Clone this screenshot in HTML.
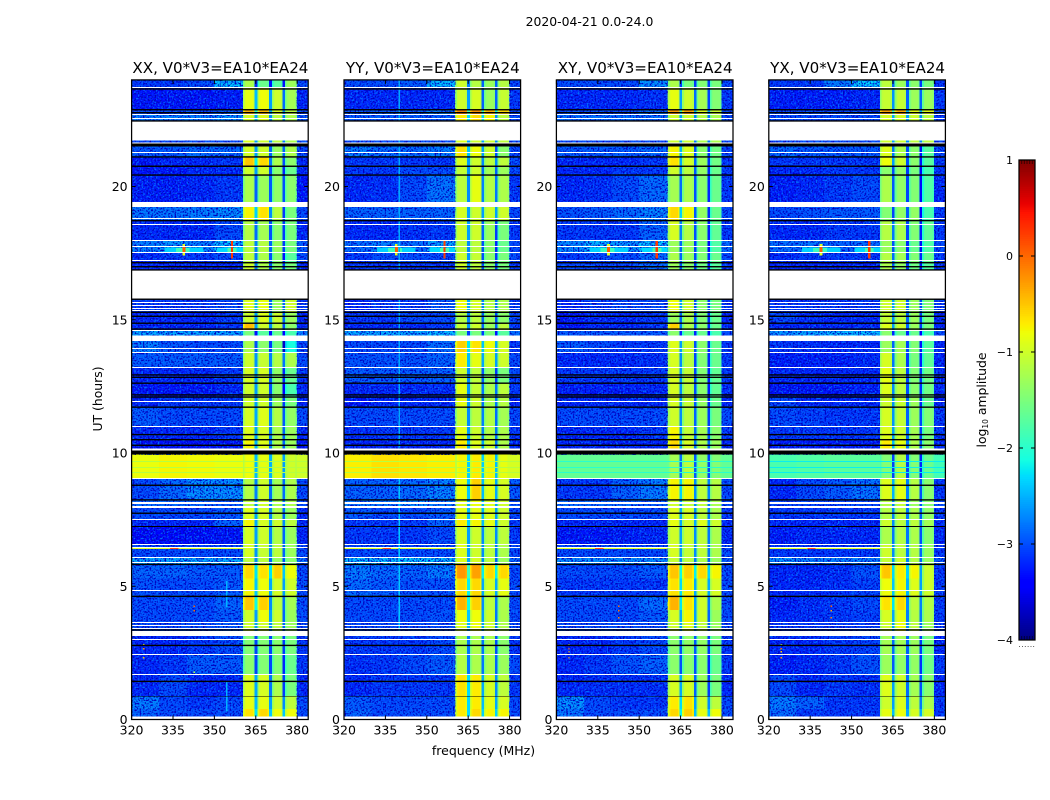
<!DOCTYPE html>
<html lang="en">
<head>
<meta charset="utf-8">
<title>2020-04-21 amplitude spectrograms</title>
<style>
html,body{margin:0;padding:0;background:#fff;}
body{width:1050px;height:800px;overflow:hidden;}
svg{display:block;}
text{font-family:"DejaVu Sans","Liberation Sans",sans-serif;fill:#000;}
</style>
</head>
<body>
<svg id="figure" width="1050" height="800" viewBox="0 0 1050 800" xmlns="http://www.w3.org/2000/svg">
  <defs>
    <filter id="speckle-light" x="0" y="0" width="100%" height="100%" color-interpolation-filters="sRGB">
      <feTurbulence type="fractalNoise" baseFrequency="0.55" numOctaves="1" seed="4"/>
      <feColorMatrix type="matrix" values="0 0 0 0 0  0 0 0 0 0.42  0 0 0 0 1  5 0 0 0 -2.45"/>
    </filter>
    <filter id="speckle-dark" x="0" y="0" width="100%" height="100%" color-interpolation-filters="sRGB">
      <feTurbulence type="fractalNoise" baseFrequency="0.6" numOctaves="1" seed="11"/>
      <feColorMatrix type="matrix" values="0 0 0 0 0  0 0 0 0 0  0 0 0 0 0.75  5 0 0 0 -2.4"/>
    </filter>
  </defs>
  <text x="589.5" y="26" font-size="12.4" text-anchor="middle">2020-04-21 0.0-24.0</text>
  <text x="483.5" y="755" font-size="12.5" text-anchor="middle">frequency (MHz)</text>
  <text x="0" y="0" font-size="12.4" text-anchor="middle" transform="translate(102 399) rotate(-90)">UT (hours)</text>
  <text x="0" y="0" font-size="12.4" text-anchor="middle" transform="translate(986 400) rotate(-90)">log<tspan font-size="7.5" dy="2">10</tspan><tspan dy="-2"> amplitude</tspan></text>
  <g id="panels"></g>
  <g id="colorbar"></g>
</svg>
<script>
// ---- chart data (log10 amplitude; hours UT; frequency MHz) ----
const panelTitles = ["XX, V0*V3=EA10*EA24", "YY, V0*V3=EA10*EA24", "XY, V0*V3=EA10*EA24", "YX, V0*V3=EA10*EA24"];
const xTickValues = [320, 335, 350, 365, 380];
const yTickValues = [0, 5, 10, 15, 20];
const colorbarTickValues = [1, 0, -1, -2, -3, -4];
const colorbarTickLabels = ["1", "0", "\u22121", "\u22122", "\u22123", "\u22124"];

const lowBandEdges = [320, 330, 340, 350, 360.3];
const spwLowEdges = [360.3, 365.6, 370.8, 375.6];
const spwHighEdges = [364.6, 369.8, 374.7, 379.9];
const spwShapeOffsets = [-0.35, -0.05, 0, 0, 0, 0, -0.12];
const gapDrop = [-1.6];

const blockHighHour = [24,23.72,22.88,22.7,21.72,21.5,21.1,20.76,20.43,19.24,18.72,18,17.5,17.14,15.78,15.28,14.87,14.6,14.2,13.79,13.22,12.62,12.1,11.72,11.02,10.5,9.94,9.05,8.24,7.94,7.51,7.25,6.57,6.09,5.82,5.3,4.62,4.1,3.65,3.13,2.45,1.7,0.86,0.4];
const blockLowHour = [23.72,22.88,22.7,22.43,21.5,21.1,20.76,20.43,19.42,18.72,18,17.5,17.14,16.84,15.28,14.87,14.6,14.4,13.79,13.22,12.62,12.1,11.72,11.02,10.5,10.16,9.05,8.24,7.94,7.51,7.25,6.57,6.09,5.82,5.3,4.62,4.1,3.65,3.33,2.45,1.7,0.89,0.4,0.03];

// each row: 320-330, 330-340, 340-350, 350-360, spw1, spw2, spw3, spw4, 380-384
const amplitudeXX = [
[-3.1,-3.1,-3.0,-2.4,-1.2,-1.6,-1.7,-1.3,-3.0],
[-3.3,-3.3,-3.3,-3.25,-0.85,-0.8,-1.0,-1.25,-3.2],
[-3.0,-3.0,-3.0,-2.9,-0.4,-0.45,-0.9,-1.1,-3.0],
[-2.7,-2.7,-2.7,-2.6,-0.95,-0.9,-1.1,-1.2,-2.9],
[-3.0,-3.0,-3.0,-3.0,-0.9,-1.0,-1.1,-1.2,-3.0],
[-2.9,-2.9,-2.8,-2.8,-0.95,-1.0,-1.3,-1.2,-3.0],
[-3.3,-3.2,-3.2,-3.1,-0.5,-0.6,-1.2,-1.4,-3.2],
[-3.3,-3.3,-3.2,-3.2,-1.0,-1.0,-1.4,-1.6,-3.2],
[-3.25,-3.25,-3.2,-3.1,-1.2,-1.3,-1.35,-1.4,-3.3],
[-2.75,-2.75,-2.7,-2.6,-0.75,-0.65,-1.1,-1.5,-3.0],
[-3.2,-3.2,-3.2,-3.0,-1.15,-1.25,-1.4,-1.5,-3.2],
[-2.7,-2.6,-2.7,-2.4,-1.1,-1.15,-1.3,-1.5,-2.9],
[-3.2,-3.1,-3.1,-3.0,-1.1,-1.2,-1.4,-1.7,-3.0],
[-3.2,-3.2,-3.2,-3.2,-1.0,-1.2,-1.4,-1.5,-3.2],
[-3.1,-3.1,-3.1,-3.0,-0.9,-0.85,-1.3,-1.0,-3.1],
[-3.2,-3.2,-3.2,-3.1,-1.0,-0.9,-1.0,-1.3,-3.2],
[-3.2,-3.2,-3.2,-3.1,-0.45,-1.0,-1.1,-1.4,-3.2],
[-2.5,-2.5,-2.5,-2.5,-1.5,-1.7,-1.6,-1.8,-2.7],
[-2.7,-2.9,-3.0,-3.0,-1.2,-1.4,-1.5,-2.1,-3.0],
[-2.9,-2.9,-2.9,-2.9,-1.0,-1.05,-1.15,-1.2,-3.0],
[-3.2,-3.2,-3.2,-3.1,-0.95,-0.95,-1.35,-1.6,-3.1],
[-3.3,-3.3,-3.3,-3.2,-1.0,-1.0,-1.4,-1.8,-3.2],
[-3.2,-3.1,-3.1,-3.1,-1.0,-1.0,-1.3,-1.5,-3.2],
[-2.9,-3.0,-3.0,-3.0,-0.95,-0.9,-1.15,-1.35,-3.0],
[-3.2,-3.2,-3.2,-3.1,-0.9,-0.95,-1.2,-1.3,-3.2],
[-3.3,-3.3,-3.3,-3.3,-0.75,-0.9,-1.2,-1.3,-3.3],
[-0.82,-0.76,-0.78,-0.82,-0.8,-0.85,-0.9,-1.0,-1.0],
[-3.0,-2.8,-2.6,-2.6,-1.15,-1.0,-1.25,-1.2,-3.0],
[-2.8,-2.8,-2.8,-2.9,-1.1,-1.0,-1.2,-1.2,-3.0],
[-3.0,-3.0,-3.0,-2.9,-0.9,-0.95,-1.15,-1.3,-3.2],
[-3.2,-3.2,-3.2,-2.85,-0.75,-0.95,-1.0,-1.1,-3.2],
[-3.4,-3.4,-3.35,-3.3,-0.95,-1.0,-1.15,-1.3,-3.2],
[-3.0,-3.0,-3.0,-3.0,-0.95,-1.05,-1.1,-1.3,-3.0],
[-2.5,-2.5,-2.5,-2.5,-1.1,-1.1,-1.3,-1.4,-2.8],
[-2.85,-2.85,-2.9,-2.9,-0.6,-0.65,-0.55,-0.8,-3.0],
[-2.95,-3.0,-3.0,-2.9,-0.75,-0.8,-0.95,-1.0,-3.0],
[-3.0,-3.0,-3.0,-2.85,-0.5,-0.55,-1.1,-1.25,-3.0],
[-3.0,-3.0,-3.0,-2.9,-1.0,-0.8,-1.0,-1.3,-3.0],
[-3.0,-3.0,-3.0,-2.9,-1.0,-1.0,-1.1,-1.3,-3.0],
[-3.2,-3.2,-3.1,-3.0,-1.45,-1.45,-1.4,-1.5,-3.1],
[-3.2,-3.1,-2.9,-2.9,-1.4,-1.45,-1.45,-1.6,-3.1],
[-3.2,-3.0,-3.2,-3.2,-0.9,-0.95,-1.2,-1.5,-3.2],
[-2.7,-3.0,-3.1,-3.0,-0.85,-0.85,-1.0,-1.1,-3.0],
[-2.85,-3.0,-3.0,-3.0,-0.65,-0.6,-0.8,-0.8,-3.0]
];
const amplitudeYY = [
[-3.0,-3.0,-2.9,-2.4,-1.0,-1.15,-1.3,-1.15,-3.0],
[-3.2,-3.2,-3.2,-3.2,-1.0,-0.95,-1.3,-1.05,-3.1],
[-2.9,-2.9,-2.9,-2.7,-0.15,-0.2,-0.4,-0.6,-3.0],
[-2.9,-2.9,-2.9,-2.9,-0.7,-0.6,-0.75,-1.1,-3.0],
[-3.0,-3.0,-3.0,-3.0,-0.9,-1.0,-1.0,-1.1,-3.0],
[-2.7,-2.8,-2.8,-2.7,-0.65,-0.8,-1.0,-1.4,-3.0],
[-3.1,-3.1,-3.1,-3.1,-0.9,-1.0,-1.1,-1.1,-3.0],
[-3.1,-3.1,-3.0,-3.0,-1.05,-1.0,-1.25,-1.3,-3.0],
[-3.2,-3.15,-3.0,-2.75,-1.1,-0.85,-1.15,-1.2,-3.1],
[-2.85,-2.85,-2.85,-2.85,-0.95,-1.0,-1.0,-1.0,-3.0],
[-3.2,-3.2,-3.15,-3.1,-1.0,-1.0,-1.3,-1.5,-3.1],
[-2.8,-2.7,-2.8,-2.5,-1.1,-1.1,-1.4,-1.6,-3.0],
[-3.1,-3.0,-3.0,-3.0,-1.0,-1.05,-1.4,-1.5,-3.0],
[-3.1,-3.1,-3.1,-3.1,-1.0,-1.1,-1.4,-1.5,-3.1],
[-3.2,-3.1,-3.1,-2.9,-0.8,-0.95,-1.15,-1.2,-3.1],
[-3.1,-3.1,-3.0,-3.0,-1.15,-1.1,-1.3,-1.4,-3.0],
[-3.2,-3.2,-3.2,-3.1,-1.05,-1.0,-1.3,-1.1,-3.1],
[-2.5,-2.5,-2.5,-2.4,-1.5,-1.5,-1.5,-1.7,-2.8],
[-3.0,-3.0,-3.0,-2.8,-0.55,-0.65,-0.8,-0.95,-3.1],
[-2.95,-2.95,-2.95,-2.85,-0.7,-0.85,-0.95,-1.0,-3.0],
[-2.9,-2.9,-2.9,-2.85,-1.0,-1.1,-1.35,-1.5,-3.0],
[-3.2,-3.2,-3.2,-3.15,-0.85,-1.05,-1.2,-1.1,-3.1],
[-3.3,-3.2,-3.2,-3.2,-0.85,-1.0,-1.2,-1.15,-3.2],
[-3.0,-3.0,-3.0,-3.0,-1.05,-1.1,-1.15,-1.25,-3.0],
[-3.15,-3.1,-3.1,-3.1,-0.85,-1.0,-1.15,-1.2,-3.1],
[-3.2,-3.2,-3.2,-3.2,-0.7,-0.9,-1.0,-1.2,-3.2],
[-0.72,-0.64,-0.68,-0.72,-0.75,-0.7,-0.75,-0.85,-0.95],
[-2.85,-2.85,-2.8,-2.65,-0.8,-0.55,-0.85,-0.95,-2.9],
[-2.7,-2.7,-2.6,-2.7,-0.9,-0.8,-0.9,-1.0,-3.0],
[-2.9,-3.0,-3.0,-2.9,-0.85,-0.85,-0.9,-1.0,-3.0],
[-3.1,-3.1,-3.1,-2.85,-0.7,-0.75,-0.85,-1.0,-3.1],
[-3.1,-3.1,-3.1,-3.0,-0.95,-1.0,-1.1,-1.1,-3.1],
[-3.0,-3.0,-3.0,-3.0,-0.9,-1.0,-1.1,-1.2,-3.0],
[-2.4,-2.4,-2.3,-2.4,-0.9,-0.95,-1.1,-1.3,-2.8],
[-2.7,-2.8,-2.85,-2.7,-0.25,-0.3,-0.6,-0.6,-3.0],
[-2.8,-2.9,-2.95,-2.95,-0.6,-0.6,-0.95,-0.85,-3.0],
[-3.0,-3.0,-3.0,-3.0,-0.4,-0.55,-1.1,-1.2,-3.0],
[-3.0,-3.0,-3.0,-2.95,-0.8,-0.8,-1.0,-1.2,-3.0],
[-3.0,-3.0,-3.0,-3.0,-0.9,-0.8,-1.0,-1.2,-3.0],
[-3.1,-3.1,-3.1,-3.0,-1.2,-1.2,-1.2,-1.4,-3.1],
[-3.15,-3.1,-3.0,-2.9,-1.15,-1.2,-1.2,-1.3,-3.0],
[-3.2,-3.1,-3.1,-3.1,-0.65,-0.7,-0.95,-1.1,-3.1],
[-2.9,-3.0,-3.0,-3.0,-0.7,-0.7,-0.85,-0.95,-3.0],
[-2.85,-3.0,-3.0,-3.0,-0.7,-0.6,-0.75,-0.75,-3.0]
];
const amplitudeXY = [
[-3.0,-3.0,-3.0,-2.6,-1.2,-1.5,-1.45,-1.5,-3.0],
[-3.2,-3.2,-3.2,-3.15,-0.85,-1.0,-1.25,-1.45,-3.1],
[-3.0,-3.0,-3.0,-2.8,-0.25,-0.3,-0.9,-1.0,-3.0],
[-2.8,-2.8,-2.8,-2.8,-1.0,-1.0,-1.15,-1.2,-3.0],
[-3.0,-3.0,-3.0,-3.0,-1.0,-1.0,-1.2,-1.2,-3.0],
[-2.9,-2.9,-2.9,-2.8,-0.75,-0.9,-1.4,-1.55,-3.0],
[-3.2,-3.2,-3.2,-3.1,-0.65,-0.95,-1.3,-1.55,-3.1],
[-3.2,-3.2,-3.1,-3.1,-1.0,-1.1,-1.35,-1.6,-3.1],
[-3.2,-3.15,-3.0,-2.8,-1.25,-1.2,-1.4,-1.6,-3.1],
[-2.95,-2.9,-2.8,-2.65,-0.6,-0.75,-1.35,-1.6,-3.0],
[-3.1,-3.1,-3.1,-2.85,-0.95,-1.15,-1.4,-1.65,-3.1],
[-2.65,-2.45,-2.6,-2.35,-1.3,-1.3,-1.5,-1.75,-2.8],
[-3.1,-3.0,-3.0,-2.8,-1.2,-1.3,-1.45,-1.6,-3.0],
[-3.0,-3.0,-3.0,-2.8,-1.3,-1.4,-1.55,-1.7,-3.1],
[-3.2,-3.1,-3.0,-3.0,-0.8,-1.0,-1.4,-1.5,-3.1],
[-3.3,-3.2,-3.2,-3.1,-1.3,-1.2,-1.45,-1.6,-3.2],
[-3.3,-3.2,-3.2,-3.1,-0.55,-1.2,-1.4,-1.6,-3.2],
[-2.9,-2.9,-2.9,-2.9,-1.4,-1.6,-1.6,-1.8,-3.0],
[-2.9,-3.0,-3.1,-3.1,-0.9,-1.0,-1.4,-1.6,-3.1],
[-3.2,-3.2,-3.2,-3.15,-0.95,-1.1,-1.45,-1.6,-3.1],
[-3.1,-3.1,-3.1,-3.1,-0.95,-1.05,-1.45,-1.65,-3.1],
[-3.25,-3.25,-3.25,-3.2,-0.95,-1.1,-1.4,-1.65,-3.2],
[-3.2,-3.2,-3.2,-3.2,-0.95,-1.05,-1.35,-1.6,-3.2],
[-3.0,-3.0,-3.0,-3.0,-1.0,-1.1,-1.3,-1.5,-3.0],
[-3.2,-3.2,-3.2,-3.1,-0.75,-1.05,-1.25,-1.4,-3.1],
[-3.2,-3.2,-3.2,-3.2,-0.6,-0.95,-1.2,-1.3,-3.2],
[-1.65,-1.65,-1.65,-1.65,-1.25,-1.1,-1.35,-1.45,-1.65],
[-3.1,-3.1,-2.85,-2.7,-0.75,-0.75,-1.1,-1.15,-3.0],
[-2.8,-2.8,-2.8,-2.9,-1.0,-1.05,-1.1,-1.2,-3.0],
[-3.0,-3.0,-3.0,-3.0,-0.9,-0.95,-1.1,-1.2,-3.1],
[-3.2,-3.2,-3.2,-3.2,-0.85,-0.95,-0.9,-1.0,-3.2],
[-3.3,-3.3,-3.25,-3.2,-1.0,-1.0,-1.1,-1.2,-3.2],
[-3.0,-3.0,-3.0,-3.0,-0.95,-1.05,-1.1,-1.2,-3.0],
[-2.6,-2.6,-2.6,-2.6,-1.05,-1.1,-1.2,-1.3,-2.9],
[-3.0,-3.0,-3.0,-2.9,-0.5,-0.55,-0.6,-0.75,-3.0],
[-3.1,-3.1,-3.1,-3.1,-0.65,-0.7,-0.95,-0.95,-3.0],
[-3.0,-3.0,-3.0,-2.8,-0.4,-0.65,-1.0,-1.2,-3.0],
[-3.0,-3.0,-3.0,-2.9,-0.95,-0.75,-1.0,-1.3,-3.0],
[-3.0,-3.0,-3.0,-3.0,-1.0,-0.9,-1.1,-1.3,-3.0],
[-3.2,-3.2,-3.1,-3.0,-1.4,-1.35,-1.35,-1.5,-3.1],
[-3.2,-3.1,-2.95,-2.85,-1.4,-1.4,-1.4,-1.6,-3.1],
[-3.2,-3.15,-3.15,-3.15,-0.95,-0.95,-1.3,-1.5,-3.2],
[-2.6,-3.0,-3.1,-3.1,-0.7,-0.65,-1.0,-1.1,-3.0],
[-2.75,-3.0,-3.0,-3.0,-0.6,-0.55,-0.85,-0.8,-3.0]
];
const amplitudeYX = [
[-3.1,-3.1,-2.7,-2.3,-1.1,-1.3,-1.4,-1.5,-3.1],
[-3.25,-3.25,-3.25,-3.2,-1.05,-1.05,-1.3,-1.3,-3.1],
[-3.0,-3.0,-3.0,-3.0,-0.3,-0.35,-0.85,-0.85,-3.0],
[-3.0,-3.0,-3.0,-3.0,-0.95,-0.95,-1.0,-1.1,-3.1],
[-3.0,-3.0,-3.0,-3.0,-1.0,-1.0,-1.1,-1.1,-3.0],
[-2.8,-2.9,-2.9,-2.9,-0.9,-1.2,-1.4,-1.7,-3.0],
[-3.1,-3.1,-3.1,-3.1,-0.8,-1.0,-1.4,-1.7,-3.1],
[-3.2,-3.2,-3.1,-3.1,-1.4,-1.35,-1.5,-1.8,-3.1],
[-3.25,-3.2,-3.1,-3.0,-1.2,-1.35,-1.45,-1.75,-3.2],
[-3.0,-2.95,-2.9,-2.9,-1.45,-1.35,-1.35,-1.8,-3.1],
[-3.2,-3.2,-3.1,-3.1,-1.15,-1.2,-1.45,-1.65,-3.1],
[-2.8,-2.75,-2.85,-2.8,-1.3,-1.4,-1.6,-1.75,-3.0],
[-3.2,-3.1,-3.1,-3.1,-1.15,-1.25,-1.45,-1.6,-3.1],
[-3.2,-3.2,-3.2,-3.2,-1.2,-1.35,-1.55,-1.7,-3.1],
[-3.1,-3.1,-3.1,-3.1,-1.0,-1.0,-1.3,-1.45,-3.1],
[-3.0,-3.15,-3.2,-3.2,-1.05,-1.1,-1.3,-1.5,-3.2],
[-3.2,-3.2,-3.2,-3.2,-0.9,-1.0,-1.3,-1.5,-3.2],
[-2.6,-2.5,-2.4,-2.4,-1.4,-1.6,-1.6,-1.8,-3.0],
[-3.1,-3.15,-3.2,-3.2,-1.3,-1.25,-1.45,-1.7,-3.2],
[-3.25,-3.25,-3.25,-3.2,-0.95,-1.2,-1.5,-1.65,-3.2],
[-3.2,-3.2,-3.2,-3.2,-0.85,-1.1,-1.45,-1.55,-3.2],
[-3.3,-3.3,-3.3,-3.25,-0.9,-1.1,-1.4,-1.55,-3.2],
[-3.0,-3.2,-3.2,-3.2,-1.0,-1.05,-1.3,-1.6,-3.2],
[-3.0,-3.05,-3.1,-3.1,-0.95,-1.05,-1.3,-1.45,-3.1],
[-3.1,-3.1,-3.1,-3.1,-0.9,-1.0,-1.25,-1.5,-3.1],
[-3.25,-3.25,-3.25,-3.25,-0.7,-0.85,-1.2,-1.4,-3.2],
[-1.8,-1.75,-1.7,-1.7,-1.45,-1.15,-1.45,-1.6,-1.85],
[-3.2,-3.0,-2.9,-2.75,-0.9,-0.85,-1.15,-1.4,-3.1],
[-3.0,-3.0,-3.0,-3.0,-1.15,-1.05,-1.3,-1.4,-3.0],
[-3.1,-3.1,-3.1,-3.1,-1.15,-1.1,-1.2,-1.35,-3.1],
[-3.2,-3.2,-3.2,-3.2,-1.0,-1.1,-1.1,-1.25,-3.2],
[-3.25,-3.2,-3.2,-3.2,-1.2,-1.15,-1.2,-1.4,-3.2],
[-3.1,-3.1,-3.1,-3.1,-1.0,-1.1,-1.15,-1.3,-3.1],
[-2.6,-2.7,-2.7,-2.7,-1.05,-1.0,-1.15,-1.3,-2.9],
[-3.2,-3.2,-3.15,-2.95,-0.5,-0.7,-0.75,-1.0,-3.1],
[-3.2,-3.2,-3.15,-3.05,-0.8,-0.75,-0.9,-1.0,-3.1],
[-3.25,-3.15,-3.1,-3.0,-0.65,-0.6,-1.1,-1.15,-3.1],
[-3.2,-3.15,-3.1,-3.05,-0.95,-0.85,-1.15,-1.2,-3.1],
[-3.1,-3.1,-3.1,-3.1,-1.0,-0.8,-1.1,-1.3,-3.1],
[-3.2,-3.2,-3.1,-3.05,-1.25,-1.25,-1.3,-1.5,-3.2],
[-3.25,-3.2,-3.1,-2.95,-1.3,-1.35,-1.35,-1.55,-3.1],
[-3.0,-3.2,-3.1,-3.15,-0.9,-1.0,-1.25,-1.4,-3.2],
[-2.7,-2.85,-3.1,-3.1,-1.0,-0.9,-1.1,-1.2,-3.1],
[-2.8,-3.1,-3.1,-3.1,-0.85,-0.8,-0.95,-0.95,-3.1]
];

// interference features: panel index (-1 = all panels), frequency range, hour range, value
const rfiPanel =    [-1,-1,-1,-1,-1,-1,-1,-1,-1,1,1,0,0];
const rfiFreqLow =  [332,336,338.4,338.4,351,354.8,356,320,334,339.8,339.8,354.2,354.2];
const rfiFreqHigh = [346,341,339.4,339.5,360.3,358,356.8,360.3,337,340.3,340.3,354.7,354.7];
const rfiHourLow =  [17.5,17.52,17.42,17.5,17.5,17.52,17.3,6.39,6.39,3.2,10.2,0.3,4.2];
const rfiHourHigh = [17.72,17.7,17.85,17.74,17.72,17.7,18,6.45,6.45,9.05,24,1.4,5.2];
const rfiValue =    [-2.35,-1.9,-0.9,0.05,-2.3,-1.8,0.25,-0.9,0.1,-2.4,-2.55,-2.5,-2.5];

// thin dips running through the bright 9-10 h block, one level per panel
const dipHours = [9.7, 9.49, 9.29];
const dipValue = [-1.15, -1.15, -2.0, -2.2];

// isolated bright channels: panel index, frequency, hour, value
const spotPanel = [0,0,0,0,0,0, 2,2,2,2,2,2,2, 3,3,3,3,3,3,3, 2,3];
const spotFreq =  [324.2,324.2,324.2,342.4,342.4,342.4, 324.3,324.3,324.3,324.3,342.4,342.4,342.4, 324.3,324.3,324.3,324.3,342.4,342.4,342.4, 342.4,342.4];
const spotHour =  [2.83,2.68,2.35,4.27,4.1,1.8, 2.83,2.68,2.57,2.35,4.27,4.1,3.85, 2.83,2.68,2.57,2.35,4.27,4.1,3.85, 18.75,18.75];
const spotValue = [-0.8,-0.2,-0.4,0,0,-1.2, -0.8,0,-0.5,-0.4,0,0,-0.1, -1.2,0,-0.5,-0.3,0,-0.3,-0.1, -0.8,-0.8];

// flagged time ranges (blank) and single flagged integrations
const flaggedRangeHigh = [22.43,21.66,19.42,16.84,14.4,10.16,8.17,8.01,3.33,0.105];
const flaggedRangeLow =  [21.72,21.62,19.24,15.78,14.2,10.09,8.09,7.94,3.13,0];
const flaggedHours = [23.72,22.71,22.56,21.28,18.81,18.59,17.98,17.77,17.53,17.23,17.02,15.68,15.55,15.45,15.35,14.6,13.93,13.79,13.22,11.95,11.02,9.05,7.51,6.57,6.48,6.09,5.92,4.85,3.65,3.53,3.43,3.01,2.45,1.7];
// zero-amplitude time ranges (black) and single integrations
const zeroRangeHigh = [21.62,10.09,7.27,0.89];
const zeroRangeLow =  [21.5,9.94,7.23,0.86];
const zeroHours = [23.66,22.88,22.77,22.46,21.11,20.76,20.43,18.72,17.14,16.99,16.87,15.77,15.28,15.13,14.87,14.65,12.93,12.84,12.62,12.18,12.1,11.72,10.69,10.5,10.29,8.79,8.24,7.74,5.82,4.62,3.36,2.78,1.43];

const noiseSpanHigh = [24, 9.05];
const noiseSpanLow = [9.94, 0];

// ---- scales and helpers ----
const SVG_NS = "http://www.w3.org/2000/svg";
const panelLeft = [131.6, 344, 556.4, 768.8];
const panelWidth = 176.6;
const freqMin = 320, freqMax = 384, hourMin = 0, hourMax = 24;
const plotBottom = 719.5, pixelsPerHour = 26.65;
const cbarX = 1019, cbarW = 16, cbarTop = 160, cbarBottom = 640, cbarMin = -4, cbarMax = 1;

function xScale(panel, f) { return panelLeft[panel] + (f - freqMin) / (freqMax - freqMin) * panelWidth; }
function yScale(h) { return plotBottom - (h - hourMin) * pixelsPerHour; }
function cbarScale(v) { return cbarBottom - (v - cbarMin) / (cbarMax - cbarMin) * (cbarBottom - cbarTop); }

function ramp(points, t) {
  for (let i = 1; i < points.length; i++) {
    if (t <= points[i][0]) {
      const a = points[i - 1], b = points[i];
      return a[1] + (b[1] - a[1]) * (t - a[0]) / (b[0] - a[0]);
    }
  }
  return points[points.length - 1][1];
}
const jetR = [[0,0],[0.35,0],[0.66,1],[0.89,1],[1,0.5]];
const jetG = [[0,0],[0.125,0],[0.375,1],[0.64,1],[0.91,0],[1,0]];
const jetB = [[0,0.5],[0.11,1],[0.34,1],[0.65,0],[1,0]];
function jet(v) {
  const t = Math.max(0, Math.min(1, (v - cbarMin) / (cbarMax - cbarMin)));
  const c = a => Math.round(ramp(a, t) * 255);
  return "rgb(" + c(jetR) + "," + c(jetG) + "," + c(jetB) + ")";
}
function make(tag, parent, attrs) {
  const el = document.createElementNS(SVG_NS, tag);
  for (const k in attrs) el.setAttribute(k, attrs[k]);
  parent.appendChild(el);
  return el;
}
function box(parent, x1, x2, y1, y2, fill) {
  return make("rect", parent, { x: x1.toFixed(2), y: y1.toFixed(2), width: Math.max(0, x2 - x1).toFixed(2), height: Math.max(0, y2 - y1).toFixed(2), fill: fill, "shape-rendering": "crispEdges" });
}

// ---- panels ----
const amplitudeByPanel = [amplitudeXX, amplitudeYY, amplitudeXY, amplitudeYX];
const panelKeys = ["xx", "yy", "xy", "yx"];
const panelsRoot = document.getElementById("panels");

panelTitles.forEach(function (title, p) {
  const key = panelKeys[p];
  const g = make("g", panelsRoot, {});
  
  
  const left = panelLeft[p], right = left + panelWidth;

  const bg = box(g, left, right, yScale(hourMax), yScale(hourMin), "#fff");
  
  

  const rows = amplitudeByPanel[p];
  rows.forEach(function (row, b) {
    const yTop = yScale(blockHighHour[b]), yBot = yScale(blockLowHour[b]);
    const addCell = function (f1, f2, value) {
      const cell = box(g, xScale(p, f1), xScale(p, f2), yTop, yBot, jet(value));
      
      
    };
    for (let i = 0; i < 4; i++) addCell(lowBandEdges[i], lowBandEdges[i + 1], row[i]);
    for (let s = 0; s < 4; s++) {
      const lo = spwLowEdges[s], hi = spwHighEdges[s], step = (hi - lo) / spwShapeOffsets.length;
      spwShapeOffsets.forEach(function (off, c) {
        addCell(lo + c * step, lo + (c + 1) * step, row[4 + s] + off);
      });
      if (s < 3) {
        addCell(hi, spwLowEdges[s + 1], Math.min(row[4 + s], row[5 + s]) + gapDrop[0]);
      }
    }
    addCell(spwHighEdges[3], freqMax, row[8]);
  });

  // receiver-noise speckle over the out-of-band channels
  noiseSpanHigh.forEach(function (high, i) {
    [[freqMin, spwLowEdges[0]], [spwHighEdges[3], freqMax]].forEach(function (range) {
      ["speckle-light", "speckle-dark"].forEach(function (filterId) {
        const noise = box(g, xScale(p, range[0]), xScale(p, range[1]), yScale(high), yScale(noiseSpanLow[i]), "#000");
        noise.setAttribute("filter", "url(#" + filterId + ")");
        
        
      });
    });
  });

  dipHours.forEach(function (h) {
    const y = Math.round(yScale(h));
    const d = box(g, left, right, y, y + 1, jet(dipValue[p]));
    
    
  });
  rfiPanel.forEach(function (panel, i) {
    if (panel !== -1 && panel !== p) return;
    const r = box(g, xScale(p, rfiFreqLow[i]), xScale(p, rfiFreqHigh[i]), yScale(rfiHourHigh[i]), yScale(rfiHourLow[i]), jet(rfiValue[i]));
    
    
  });
  spotPanel.forEach(function (panel, i) {
    if (panel !== p) return;
    const s = box(g, xScale(p, spotFreq[i]), xScale(p, spotFreq[i] + 0.5), yScale(spotHour[i]), yScale(spotHour[i]) + 1.5, jet(spotValue[i]));
    
    
  });

  flaggedRangeHigh.forEach(function (high, i) {
    const f = box(g, left, right, yScale(high), yScale(flaggedRangeLow[i]), "#fff");
    
    
  });
  flaggedHours.forEach(function (h) {
    const y = Math.round(yScale(h));
    const f = box(g, left, right, y, y + 1, "#fff");
    
    
  });
  zeroRangeHigh.forEach(function (high, i) {
    const z = box(g, left, right, yScale(high), yScale(zeroRangeLow[i]), "#000");
    
    
  });
  zeroHours.forEach(function (h) {
    const y = yScale(h);
    const z = make("rect", g, { x: left, y: (y - 0.7).toFixed(2), width: panelWidth, height: 1.4, fill: "#000" });
    
    
  });

  // ticks and labels
  xTickValues.forEach(function (v) {
    const x = xScale(p, v);
    [[yScale(hourMin), yScale(hourMin) - 4], [yScale(hourMax), yScale(hourMax) + 4]].forEach(function (ends) {
      const t = make("line", g, { x1: x, x2: x, y1: ends[0], y2: ends[1], stroke: "#000", "stroke-width": 1 });
      
      
    });
    const label = make("text", g, { x: x, y: 734.5, "font-size": 12.5, "text-anchor": "middle" });
    label.textContent = String(v);
    
    
  });
  yTickValues.forEach(function (v) {
    const y = yScale(v);
    [[left, left + 4], [right, right - 4]].forEach(function (ends) {
      const t = make("line", g, { x1: ends[0], x2: ends[1], y1: y, y2: y, stroke: "#000", "stroke-width": 1 });
      
      
    });
    const label = make("text", g, { x: left - 4, y: y + 4.5, "font-size": 12.5, "text-anchor": "end" });
    label.textContent = String(v);
    
    
  });

  const frame = make("rect", g, { x: left, y: yScale(hourMax), width: panelWidth, height: yScale(hourMin) - yScale(hourMax), fill: "none", stroke: "#000", "stroke-width": 1.25 });
  
  

  const titleEl = make("text", g, { x: left + panelWidth / 2 + 0.5, y: 73, "font-size": 15.1, "text-anchor": "middle" });
  titleEl.textContent = title;
  
  
});

// ---- colorbar ----
const cb = document.getElementById("colorbar");
for (let v = cbarMin; v < cbarMax; v += 0.02) {
  const band = box(cb, cbarX, cbarX + cbarW, cbarScale(v + 0.02) - 0.3, cbarScale(v) + 0.3, jet(v + 0.01));
  
  
}
[cbarBottom, cbarTop].forEach(function (y, side) {
  for (let i = 1; i <= 5; i++) {
    const x = cbarX + i * cbarW / 6;
    const t = make("line", cb, { x1: x, x2: x, y1: y, y2: side ? y + 4 : y - 4, stroke: "#000", "stroke-opacity": 0.55, "stroke-width": 1 });
    
    
  }
});
colorbarTickValues.forEach(function (v, i) {
  const y = cbarScale(v);
  [[cbarX, cbarX + 4], [cbarX + cbarW, cbarX + cbarW - 4]].forEach(function (ends) {
    const t = make("line", cb, { x1: ends[0], x2: ends[1], y1: y, y2: y, stroke: "#000", "stroke-width": 1 });
    
    
  });
  const label = make("text", cb, { x: cbarX - 6, y: y + 4, "font-size": 11, "text-anchor": "end" });
  label.textContent = colorbarTickLabels[i];
  
  
});
const cbFrame = make("rect", cb, { x: cbarX, y: cbarTop, width: cbarW, height: cbarBottom - cbarTop, fill: "none", stroke: "#000", "stroke-width": 1.25 });


const cbDots = make("text", cb, { x: cbarX + cbarW / 2, y: 647, "font-size": 7, "text-anchor": "middle", "letter-spacing": "0.6", fill: "#555" });
cbDots.textContent = "......";


</script>
</body>
</html>
